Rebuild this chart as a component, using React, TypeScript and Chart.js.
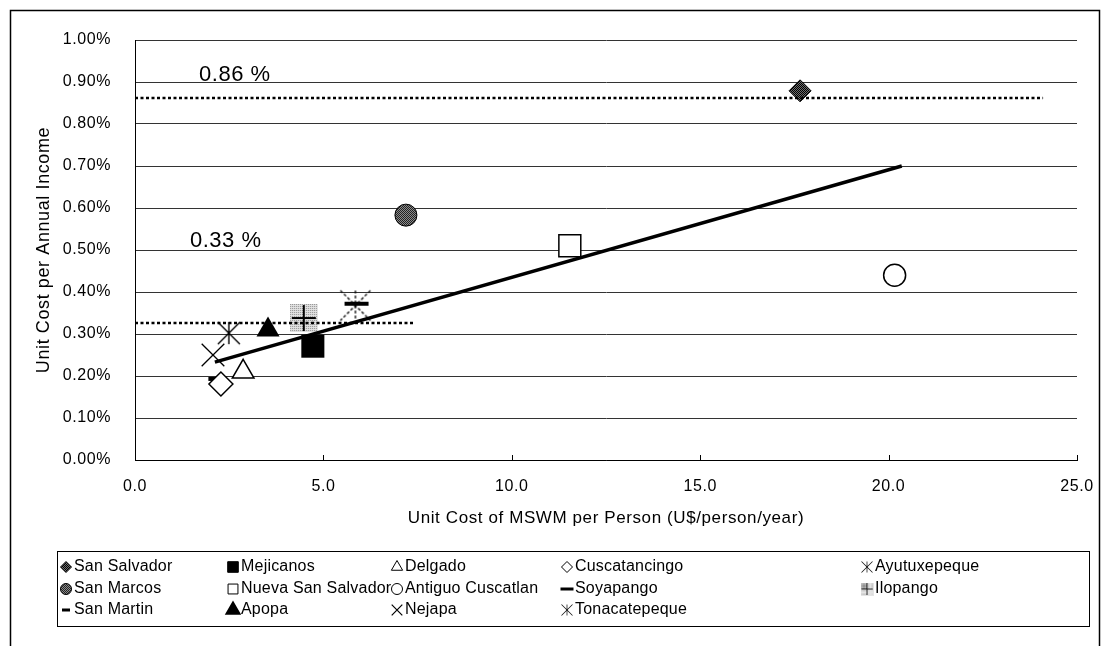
import React, { useEffect, useRef } from 'react';
import { Chart, registerables } from 'chart.js';
import { drawPoint } from 'chart.js/helpers';

Chart.register(...registerables);

// ---------- data ----------
const municipalities = [
  'San Salvador', 'Mejicanos', 'Delgado', 'Cuscatancingo', 'Ayutuxepeque',
  'San Marcos', 'Nueva San Salvador', 'Antiguo Cuscatlan', 'Soyapango', 'Ilopango',
  'San Martin', 'Apopa', 'Nejapa', 'Tonacatepeque',
];
const unitCost = [17.65, 4.72, 2.87, 2.28, 5.85, 7.19, 11.54, 20.16, 5.88, 4.48, 2.12, 3.53, 2.07, 2.49];
const incomeShare = [0.879, 0.271, 0.21, 0.181, 0.368, 0.583, 0.51, 0.44, 0.372, 0.338, 0.193, 0.31, 0.25, 0.302];

const trendCost = [2.12, 20.35];
const trendShare = [0.233, 0.7];
const highRefCost = [0, 24.1];
const highRefShare = [0.862, 0.862];
const lowRefCost = [0, 7.4];
const lowRefShare = [0.326, 0.326];
const refLabels = ['0.86 %', '0.33 %'];

const xTicks = [0, 5, 10, 15, 20, 25];
const yTicks = [0, 0.1, 0.2, 0.3, 0.4, 0.5, 0.6, 0.7, 0.8, 0.9, 1.0];

const xTitle = 'Unit Cost of MSWM per Person (U$/person/year)';
const yTitle = 'Unit Cost per Annual Income';

const FONT = "'Liberation Sans', Arial, sans-serif";

function makeAsterisk(size: number, lw: number, dash: number[]) {
  const c = document.createElement('canvas');
  const s = size + 4;
  c.width = s;
  c.height = s;
  const g = c.getContext('2d')!;
  g.strokeStyle = '#000';
  g.lineWidth = lw;
  g.setLineDash(dash);
  const m = s / 2;
  const h = size / 2;
  g.beginPath();
  g.moveTo(m - h, m - h); g.lineTo(m + h, m + h);
  g.moveTo(m + h, m - h); g.lineTo(m - h, m + h);
  g.moveTo(m, m - h); g.lineTo(m, m + h);
  g.stroke();
  return c;
}

function makeIlopango(size: number) {
  const c = document.createElement('canvas');
  c.width = size;
  c.height = size;
  const g = c.getContext('2d')!;
  g.fillStyle = '#e4e4e4';
  g.fillRect(0, 0, size, size);
  g.fillStyle = '#8a8a8a';
  for (let i = 0; i < size; i++) {
    for (let j = 0; j < size; j++) {
      if ((i + j) % 2 === 0 && i % 2 === 0) g.fillRect(i, j, 1, 1);
    }
  }
  g.strokeStyle = '#000';
  g.lineWidth = 2;
  const m = size / 2;
  g.beginPath();
  g.moveTo(2, m); g.lineTo(size - 2, m);
  g.moveTo(m, 1); g.lineTo(m, size - 1);
  g.stroke();
  return c;
}

function makePattern(ctx: CanvasRenderingContext2D, fg: string, bg: string) {
  const t = document.createElement('canvas');
  t.width = 2;
  t.height = 2;
  const g = t.getContext('2d')!;
  g.fillStyle = bg;
  g.fillRect(0, 0, 2, 2);
  g.fillStyle = fg;
  g.fillRect(0, 0, 1, 1);
  g.fillRect(1, 1, 1, 1);
  return ctx.createPattern(t, 'repeat')!;
}

export default function App() {
  const ref = useRef<HTMLCanvasElement | null>(null);

  useEffect(() => {
    const canvas = ref.current!;
    const ctx = canvas.getContext('2d')!;
    const darkDots = makePattern(ctx, '#000', '#6e6e6e');
    const midDots = makePattern(ctx, '#222', '#8c8c8c');
    const astBig = makeAsterisk(30, 1.3, [3, 2]);
    const astSmall = makeAsterisk(22, 1.4, []);
    const ilo = makeIlopango(28);

    // marker style per municipality (same order as municipalities)
    const markers: any[] = [
      { style: 'rectRot', r: 11, bg: darkDots, bw: 1, lr: 5.5 },
      { style: 'rect', r: 16.3, bg: '#000', bw: 0, lr: 7.5 },
      { style: 'triangle', r: 12.5, bg: '#fff', bw: 1.5, lr: 6.5 },
      { style: 'rectRot', r: 12, bg: '#fff', bw: 1.5, lr: 5.5 },
      { style: astBig, r: 15, bg: '#000', bw: 1, lr: 6, img: astSmall },
      { style: 'circle', r: 11, bg: midDots, bw: 1, lr: 5.5 },
      { style: 'rect', r: 15.5, bg: '#fff', bw: 1.5, lr: 7 },
      { style: 'circle', r: 11, bg: '#fff', bw: 1.5, lr: 5.5 },
      { style: 'line', r: 12, bg: '#000', bw: 4, lr: 6.5, lbw: 3 },
      { style: ilo, r: 14, bg: '#000', bw: 1, lr: 6, img: ilo },
      { style: 'line', r: 6.5, bg: '#000', bw: 4, lr: 4, lbw: 3 },
      { style: 'triangle', r: 13.3, bg: '#000', bw: 0, lr: 6.5 },
      { style: 'crossRot', r: 16, bg: '#000', bw: 1.3, lr: 7.5, lbw: 1.2 },
      { style: astSmall, r: 12, bg: '#000', bw: 1, lr: 6, img: astSmall },
    ];

    const pointSets = municipalities.map((name, i) => ({
      label: name,
      data: [{ x: unitCost[i], y: incomeShare[i] }],
      pointStyle: markers[i].style,
      pointRadius: markers[i].r,
      pointBackgroundColor: markers[i].bg,
      pointBorderColor: '#000',
      pointBorderWidth: markers[i].bw,
      showLine: false,
      order: 1,
    }));

    const lineSet = (xs: number[], ys: number[], width: number, dash: number[]) => ({
      label: '',
      data: xs.map((x, i) => ({ x, y: ys[i] })),
      showLine: true,
      borderColor: '#000',
      borderWidth: width,
      borderDash: dash,
      borderCapStyle: 'butt',
      pointRadius: 0,
      order: 0,
    });

    const setSpacing = (chart: any, v: string) => {
      (chart.ctx as any).letterSpacing = v;
    };

    const decor = {
      id: 'decor',
      beforeUpdate(chart: any) { setSpacing(chart, '0.6px'); },
      beforeDraw(chart: any) { setSpacing(chart, '0.6px'); },
      afterDraw(chart: any) {
        const c = chart.ctx as CanvasRenderingContext2D;
        const xs = chart.scales.x;
        const ys = chart.scales.y;
        c.save();
        (c as any).letterSpacing = '0.5px';
        // reference labels
        c.fillStyle = '#000';
        c.font = `22px ${FONT}`;
        c.textBaseline = 'middle';
        c.textAlign = 'left';
        c.fillText(refLabels[0], xs.getPixelForValue(1.7), ys.getPixelForValue(0.917));
        c.fillText(refLabels[1], xs.getPixelForValue(1.46), ys.getPixelForValue(0.521));
        // small inward ticks on x axis
        c.strokeStyle = '#000';
        c.lineWidth = 1;
        c.beginPath();
        xTicks.slice(1).forEach((v) => {
          const px = Math.round(xs.getPixelForValue(v)) + 0.5;
          c.moveTo(px, ys.bottom);
          c.lineTo(px, ys.bottom - 5);
        });
        c.stroke();
        // outer frame
        c.lineWidth = 1.5;
        c.strokeRect(10.5, 10.5, 1089, 660);
        // legend box
        c.lineWidth = 1;
        c.strokeRect(57.5, 551.5, 1032, 75);
        const cols = [66, 233, 397, 567, 867];
        const rows = [567, 589, 610];
        (c as any).letterSpacing = '0.2px';
        c.font = `16px ${FONT}`;
        municipalities.forEach((name, i) => {
          const cx = cols[i % 5];
          const cy = rows[Math.floor(i / 5)];
          const m = markers[i];
          if (m.img) {
            const sz = 13;
            c.drawImage(m.img, cx - sz / 2, cy - sz / 2, sz, sz);
          } else {
            c.fillStyle = m.bg;
            c.strokeStyle = '#000';
            c.lineWidth = m.lbw ?? (m.bw > 0 ? 1 : 0);
            drawPoint(c, { pointStyle: m.style, rotation: 0, radius: m.lr, borderWidth: c.lineWidth } as any, cx, cy);
          }
          c.fillStyle = '#000';
          c.textAlign = 'left';
          c.textBaseline = 'middle';
          c.fillText(name, cx + 8, cy);
        });
        c.restore();
      },
    };

    const chart = new Chart(canvas, {
      type: 'scatter',
      data: {
        datasets: [
          ...pointSets,
          lineSet(trendCost, trendShare, 3.5, []),
          lineSet(highRefCost, highRefShare, 2.5, [3, 2.5]),
          lineSet(lowRefCost, lowRefShare, 2.5, [3, 2.5]),
        ] as any,
      },
      options: {
        animation: false,
        responsive: false,
        events: [],
        layout: { padding: { left: 29, top: 40, right: 27, bottom: 113 } },
        font: { family: FONT },
        plugins: { legend: { display: false }, tooltip: { enabled: false } },
        scales: {
          x: {
            type: 'linear',
            min: 0,
            max: 25,
            afterBuildTicks: (s: any) => { s.ticks = xTicks.map((v) => ({ value: v })); },
            afterFit: (s: any) => { s.height = 73; s.paddingLeft = 0; s.paddingRight = 0; },
            grid: { drawOnChartArea: false, drawTicks: false },
            border: { color: '#000', width: 1 },
            ticks: {
              padding: 17,
              color: '#000',
              maxRotation: 0,
              autoSkip: false,
              font: { family: FONT, size: 16 },
              callback: (v: any) => Number(v).toFixed(1),
            },
            title: {
              display: true,
              text: xTitle,
              color: '#000',
              font: { family: FONT, size: 17 },
              padding: { top: 4, bottom: 4 },
            },
          },
          y: {
            type: 'linear',
            min: 0,
            max: 1,
            afterBuildTicks: (s: any) => { s.ticks = yTicks.map((v) => ({ value: v })); },
            afterFit: (s: any) => { s.width = 106; s.paddingTop = 0; s.paddingBottom = 0; },
            grid: { color: '#333', lineWidth: 1, drawTicks: false },
            border: { color: '#000', width: 1 },
            ticks: {
              padding: 24,
              color: '#000',
              autoSkip: false,
              font: { family: FONT, size: 16 },
              callback: (v: any) => Number(v).toFixed(2) + '%',
            },
            title: {
              display: true,
              text: yTitle,
              color: '#000',
              font: { family: FONT, size: 18 },
              padding: { top: 4, bottom: 4 },
            },
          },
        },
      } as any,
      plugins: [decor],
    });

    return () => chart.destroy();
  }, []);

  return (
    <div style={{ position: 'absolute', left: 0, top: 0, width: 1104, height: 646, background: '#fff' }}>
      <canvas ref={ref} width={1104} height={646} style={{ display: 'block' }} />
    </div>
  );
}
